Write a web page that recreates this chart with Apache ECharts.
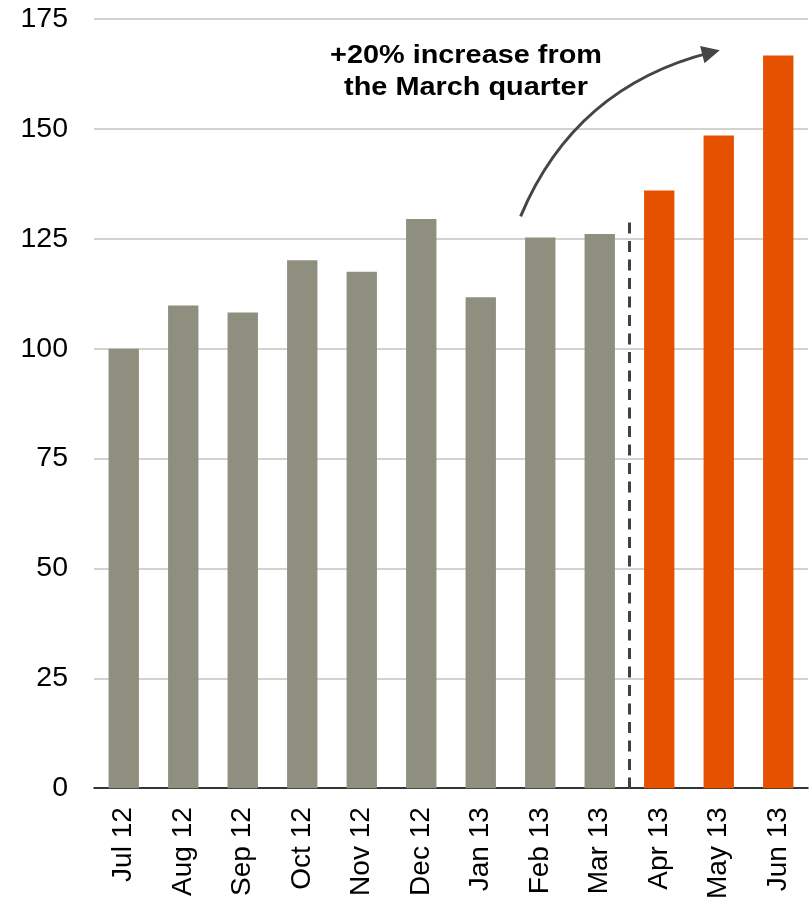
<!DOCTYPE html>
<html>
<head>
<meta charset="utf-8">
<script src="https://cdn.jsdelivr.net/npm/echarts@6/dist/echarts.min.js"></script>
<style>html,body{margin:0;padding:0;background:#fff}#c{width:809px;height:902px}</style>
</head>
<body>
<div id="c"></div>
<script>
const categories = ['Jul 12','Aug 12','Sep 12','Oct 12','Nov 12','Dec 12','Jan 13','Feb 13','Mar 13','Apr 13','May 13','Jun 13'];
const values = [100, 109.8, 108.2, 120.1, 117.5, 129.5, 111.7, 125.3, 126.1, 136.0, 148.5, 166.7];
const forecastStart = 9; // index where orange bars begin
const yTicks = { min: 0, max: 175, interval: 25 };
const dividerLine = [[8.5, 128.7], [8.5, 0]];
const arrowPath = [[6.67, 130.1], [9.87, 167.4]];
const annotationText = '+20% increase from\nthe March quarter';

const GREY = '#8f8f7f', ORANGE = '#e65100';
const FONT = '"Liberation Sans", Arial, sans-serif';

const chart = echarts.init(document.getElementById('c'));
chart.setOption({
  animation: false,
  grid: { left: 94, right: 1, top: 19, bottom: 113 },
  xAxis: [{
    type: 'category', data: categories,
    axisLine: { lineStyle: { color: '#000', width: 1.5 } },
    axisTick: { show: false },
    axisLabel: { rotate: 90, fontSize: 28, color: '#000', fontFamily: FONT, margin: 19, interval: 0 }
  }, {
    type: 'value', min: -0.5, max: 11.5, show: false
  }],
  yAxis: {
    type: 'value', min: yTicks.min, max: yTicks.max, interval: yTicks.interval,
    axisLine: { show: false }, axisTick: { show: false },
    axisLabel: { fontSize: 28.5, color: '#000', fontFamily: FONT, margin: 26 },
    splitLine: { lineStyle: { color: '#c4c4bc', width: 1.5 } }
  },
  series: [{
    type: 'bar', barWidth: '51%',
    data: values.map((v, i) => ({ value: v, itemStyle: { color: i >= forecastStart ? ORANGE : GREY } }))
  }, {
    type: 'line', xAxisIndex: 1, data: dividerLine, symbol: 'none',
    lineStyle: { color: '#404040', width: 3, type: [11, 7.5] }, silent: true
  }, {
    type: 'lines', coordinateSystem: 'cartesian2d', xAxisIndex: 1,
    symbol: ['none', 'triangle'], symbolSize: [15, 18],
    lineStyle: { color: '#454545', width: 3, curveness: 0.25, opacity: 1 },
    data: [{ coords: arrowPath }], silent: true
  }],
  graphic: [{
    type: 'text', x: 466, y: 72, scaleX: 1.11,
    style: { text: annotationText, font: 'bold 26px ' + FONT, fill: '#000',
      textAlign: 'center', textVerticalAlign: 'middle', lineHeight: 32 }
  }]
});
</script>
</body>
</html>
